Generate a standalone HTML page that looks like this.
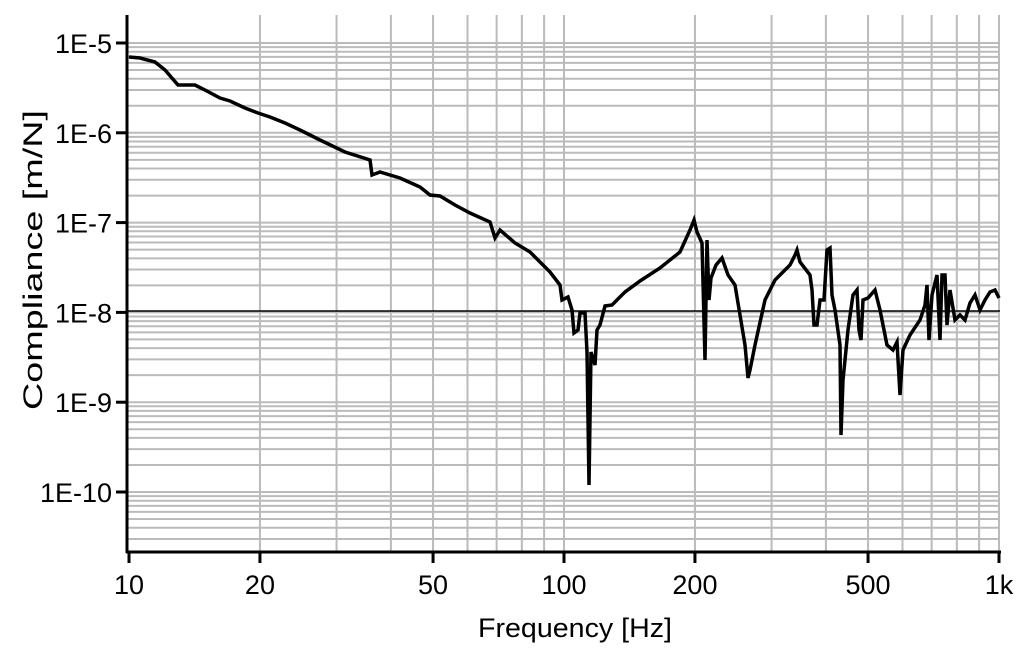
<!DOCTYPE html>
<html><head><meta charset="utf-8"><style>
html,body{margin:0;padding:0;background:#fff;}
svg{display:block;font-family:"Liberation Sans",sans-serif;}
</style></head><body>
<svg id="s" width="1033" height="650" viewBox="0 0 1033 650" xmlns="http://www.w3.org/2000/svg">
<g id="grid" stroke="#bbbbbb" stroke-width="2"></g>
<line x1="128" y1="311" x2="1000" y2="311" stroke="#000" stroke-width="1.5"/>
<polyline fill="none" stroke="#000" stroke-width="3.5" stroke-linejoin="miter" points="129,57 140,58 155,62 165,70 178,85 195,85 205,90 220,98 230,101 245,108 258,113 270,117 285,123 300,130 320,140 345,152 370,160 372,175 380,172 400,178 420,187 430,195 440,196 455,205 470,213 490,222 495,238 500,230 515,243 530,252 540,262 550,272 560,285 562,300 568,297 572,310 574,333 578,330 580,313 585,313 587,352 589,485 591,352 595,365 597,330 600,325 605,306 612,305 625,292 640,281 660,268 680,252 690,230 694,220 697,232 702,243 705,360 707,240 709,300 711,278 716,265 722,258 728,275 735,285 740,315 745,345 748,378 750,370 755,345 765,300 775,280 790,265 795,255 797,250 800,262 810,275 812,290 814,325 817,325 820,300 824,300 827,250 830,248 832,295 835,310 840,345 841,435 843,380 848,330 853,295 857,290 859,330 861,340 863,300 868,298 875,290 880,310 887,345 893,350 897,342 900,395 903,350 910,335 920,320 925,305 927,285 929,340 932,295 937,275 940,340 942,275 945,275 947,325 950,290 955,320 960,315 965,320 970,303 975,295 980,310 985,300 990,292 995,290 999,298"/>
<g stroke="#000" stroke-width="3">
<line x1="127" y1="15" x2="127" y2="553"/>
<line x1="126" y1="552" x2="1001" y2="552"/>
</g>
<g id="ticks" stroke="#000" stroke-width="3"></g>
<g font-size="27" fill="#000" text-anchor="end" id="ylab"></g>
<g font-size="27" fill="#000" text-anchor="middle" id="xlab"></g>
<text x="478" y="637" font-size="27" textLength="194" lengthAdjust="spacingAndGlyphs">Frequency [Hz]</text>
<text transform="translate(42,410) rotate(-90)" font-size="27" textLength="300" lengthAdjust="spacingAndGlyphs">Compliance [m/N]</text>
</svg>
<script>
var NS="http://www.w3.org/2000/svg";
function el(p,t,a,txt){var e=document.createElementNS(NS,t);for(var k in a)e.setAttribute(k,a[k]);if(txt)e.textContent=txt;document.getElementById(p).appendChild(e);}
var X=function(f){return 129+435*Math.log10(f/10);};
var D=89.8,Y0=43;
for(var d=0;d<6;d++){var yd=Y0+D*d;
 el("grid","line",{x1:128,x2:1000,y1:yd,y2:yd});
 for(var m=2;m<=9;m++){var y=yd+D*(1-Math.log10(m));if(y<552)el("grid","line",{x1:128,x2:1000,y1:y,y2:y});}
 el("ticks","line",{x1:116,x2:127,y1:yd,y2:yd});
 el("ylab","text",{x:112,y:yd+10},"1E-"+(5+d));
}
for(var dec=10;dec<=100;dec*=10)for(var m=2;m<=10;m++){var x=X(dec*m);el("grid","line",{x1:x,x2:x,y1:15,y2:552});}
[[10,"10"],[20,"20"],[50,"50"],[100,"100"],[200,"200"],[500,"500"],[1000,"1k"]].forEach(function(t){var x=X(t[0]);el("ticks","line",{x1:x,x2:x,y1:552,y2:563});el("xlab","text",{x:x,y:594},t[1]);});
</script>
</body></html>
